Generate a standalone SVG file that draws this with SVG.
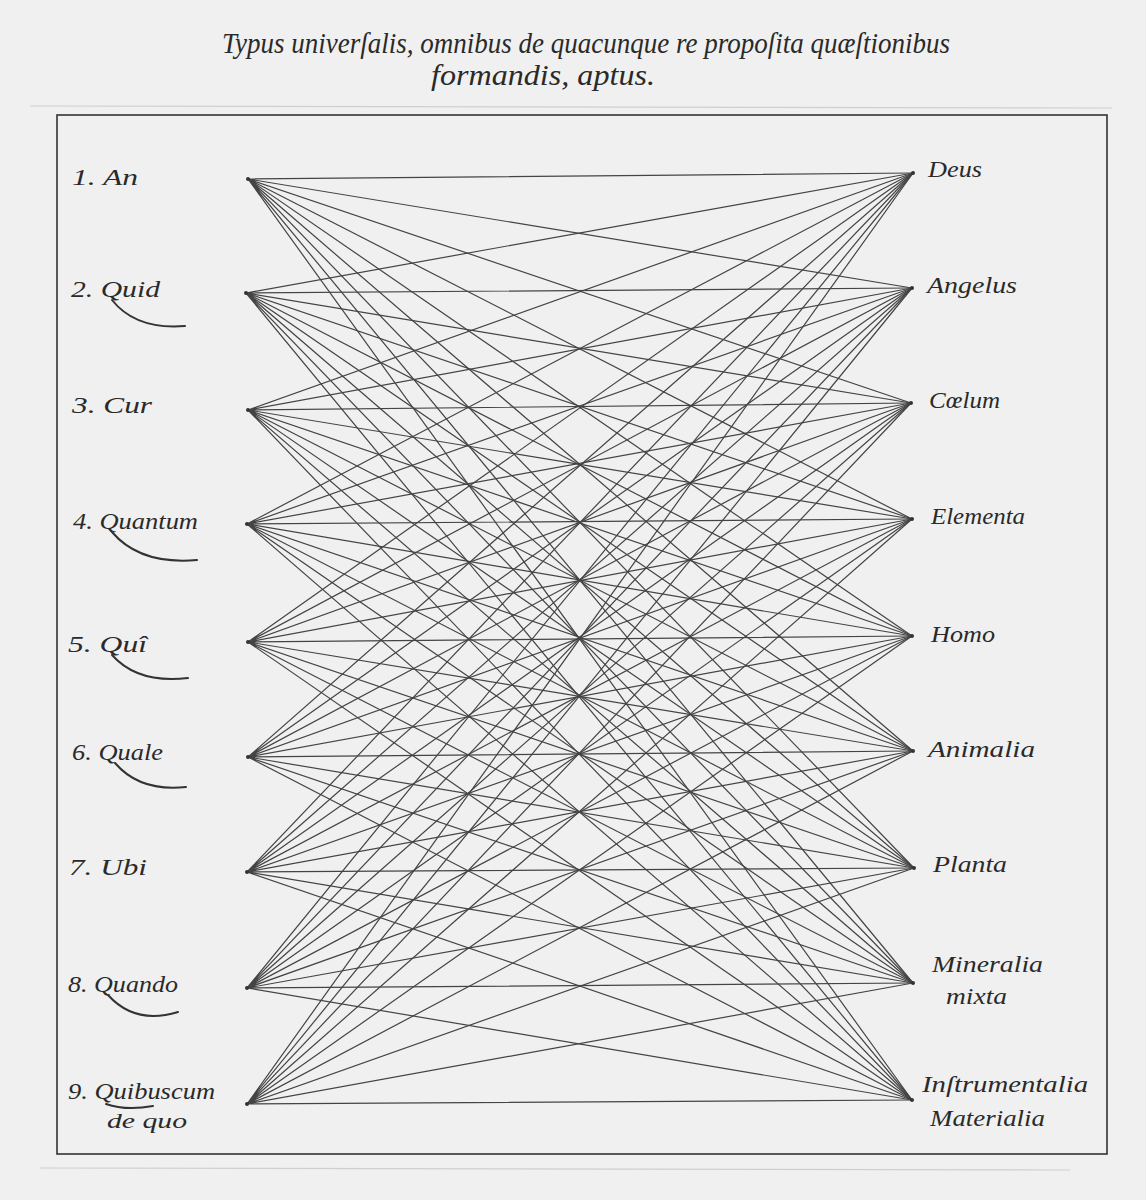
<svg xmlns="http://www.w3.org/2000/svg" width="1146" height="1200" viewBox="0 0 1146 1200">
<style>
.t{font-family:"Liberation Serif","DejaVu Serif",serif;font-style:italic;fill:#2a2a2a}
.lab{font-size:24px}
.sm{font-size:21px}
.ttl{font-size:29px}
.c{stroke:#444;stroke-width:1.2;fill:none}
.sw{stroke:#333;stroke-width:2;fill:none;stroke-linecap:round}
.dot{fill:#333}
</style>
<rect width="1146" height="1200" fill="#f0f0f0"/>
<g id="title">
<text class="t ttl" x="222" y="53" textLength="728" lengthAdjust="spacingAndGlyphs">Typus univerſalis, omnibus de quacunque re propoſita quæſtionibus</text>
<text class="t ttl" x="431" y="85" textLength="224" lengthAdjust="spacingAndGlyphs">formandis, aptus.</text>
</g>
<g id="plate">
<line x1="30" y1="106" x2="1112" y2="108" stroke="#cfcfcf" stroke-width="1.2"/>
<line x1="40" y1="1168" x2="1070" y2="1170" stroke="#cfcfcf" stroke-width="1.2"/>
<rect x="57" y="115" width="1050" height="1039" fill="none" stroke="#333" stroke-width="1.6"/>
</g>
<g id="connectors" class="c">
<path d="M248,179L913,173M248,179L912,288M248,179L911,403M248,179L912,519M248,179L912,636M248,179L913,751M248,179L914,868M248,179L913,983M248,179L912,1100"/>
<path d="M246,293L913,173M246,293L912,288M246,293L911,403M246,293L912,519M246,293L912,636M246,293L913,751M246,293L914,868M246,293L913,983M246,293L912,1100"/>
<path d="M248,410L913,173M248,410L912,288M248,410L911,403M248,410L912,519M248,410L912,636M248,410L913,751M248,410L914,868M248,410L913,983M248,410L912,1100"/>
<path d="M247,524L913,173M247,524L912,288M247,524L911,403M247,524L912,519M247,524L912,636M247,524L913,751M247,524L914,868M247,524L913,983M247,524L912,1100"/>
<path d="M248,642L913,173M248,642L912,288M248,642L911,403M248,642L912,519M248,642L912,636M248,642L913,751M248,642L914,868M248,642L913,983M248,642L912,1100"/>
<path d="M248,757L913,173M248,757L912,288M248,757L911,403M248,757L912,519M248,757L912,636M248,757L913,751M248,757L914,868M248,757L913,983M248,757L912,1100"/>
<path d="M247,872L913,173M247,872L912,288M247,872L911,403M247,872L912,519M247,872L912,636M247,872L913,751M247,872L914,868M247,872L913,983M247,872L912,1100"/>
<path d="M247,988L913,173M247,988L912,288M247,988L911,403M247,988L912,519M247,988L912,636M247,988L913,751M247,988L914,868M247,988L913,983M247,988L912,1100"/>
<path d="M247,1104L913,173M247,1104L912,288M247,1104L911,403M247,1104L912,519M247,1104L912,636M247,1104L913,751M247,1104L914,868M247,1104L913,983M247,1104L912,1100"/>
</g>
<g id="q1"><circle class="dot" cx="248" cy="179" r="2"/><text class="t lab" x="72" y="185" textLength="66" lengthAdjust="spacingAndGlyphs">1. An</text></g>
<g id="q2"><circle class="dot" cx="246" cy="293" r="2"/><text class="t lab" x="71" y="297" textLength="89" lengthAdjust="spacingAndGlyphs">2. Quid</text><path class="sw" d="M112,300Q136,330 185,326"/></g>
<g id="q3"><circle class="dot" cx="248" cy="410" r="2"/><text class="t lab" x="72" y="413" textLength="80" lengthAdjust="spacingAndGlyphs">3. Cur</text></g>
<g id="q4"><circle class="dot" cx="247" cy="524" r="2"/><text class="t lab" x="73" y="529" textLength="125" lengthAdjust="spacingAndGlyphs">4. Quantum</text><path class="sw" d="M112,532Q140,565 197,560"/></g>
<g id="q5"><circle class="dot" cx="248" cy="642" r="2"/><text class="t lab" x="68" y="652" textLength="79" lengthAdjust="spacingAndGlyphs">5. Quî</text><path class="sw" d="M112,655Q138,684 188,678"/></g>
<g id="q6"><circle class="dot" cx="248" cy="757" r="2"/><text class="t lab" x="72" y="760" textLength="91" lengthAdjust="spacingAndGlyphs">6. Quale</text><path class="sw" d="M115,763Q140,792 186,787"/></g>
<g id="q7"><circle class="dot" cx="247" cy="872" r="2"/><text class="t lab" x="69" y="875" textLength="78" lengthAdjust="spacingAndGlyphs">7. Ubi</text></g>
<g id="q8"><circle class="dot" cx="247" cy="988" r="2"/><text class="t lab" x="68" y="992" textLength="110" lengthAdjust="spacingAndGlyphs">8. Quando</text><path class="sw" d="M108,995Q135,1025 178,1012"/></g>
<g id="q9"><circle class="dot" cx="247" cy="1104" r="2"/><text class="t lab" x="68" y="1099" textLength="147" lengthAdjust="spacingAndGlyphs">9. Quibuscum</text><text class="t sm" x="107" y="1128" textLength="80" lengthAdjust="spacingAndGlyphs">de quo</text><path class="sw" d="M106,1104Q126,1111 153,1106"/></g>
<g id="r1"><circle class="dot" cx="913" cy="173" r="2"/><text class="t lab" x="928" y="177" textLength="54" lengthAdjust="spacingAndGlyphs">Deus</text></g>
<g id="r2"><circle class="dot" cx="912" cy="288" r="2"/><text class="t lab" x="927" y="293" textLength="90" lengthAdjust="spacingAndGlyphs">Angelus</text></g>
<g id="r3"><circle class="dot" cx="911" cy="403" r="2"/><text class="t lab" x="929" y="408" textLength="71" lengthAdjust="spacingAndGlyphs">Cœlum</text></g>
<g id="r4"><circle class="dot" cx="912" cy="519" r="2"/><text class="t lab" x="931" y="524" textLength="94" lengthAdjust="spacingAndGlyphs">Elementa</text></g>
<g id="r5"><circle class="dot" cx="912" cy="636" r="2"/><text class="t lab" x="931" y="642" textLength="64" lengthAdjust="spacingAndGlyphs">Homo</text></g>
<g id="r6"><circle class="dot" cx="913" cy="751" r="2"/><text class="t lab" x="928" y="757" textLength="107" lengthAdjust="spacingAndGlyphs">Animalia</text></g>
<g id="r7"><circle class="dot" cx="914" cy="868" r="2"/><text class="t lab" x="933" y="872" textLength="74" lengthAdjust="spacingAndGlyphs">Planta</text></g>
<g id="r8"><circle class="dot" cx="913" cy="983" r="2"/><text class="t lab" x="932" y="972" textLength="111" lengthAdjust="spacingAndGlyphs">Mineralia</text><text class="t lab" x="946" y="1004" textLength="61" lengthAdjust="spacingAndGlyphs">mixta</text></g>
<g id="r9"><circle class="dot" cx="912" cy="1100" r="2"/><text class="t lab" x="922" y="1092" textLength="166" lengthAdjust="spacingAndGlyphs">Inſtrumentalia</text><text class="t lab" x="930" y="1126" textLength="115" lengthAdjust="spacingAndGlyphs">Materialia</text></g>
</svg>
